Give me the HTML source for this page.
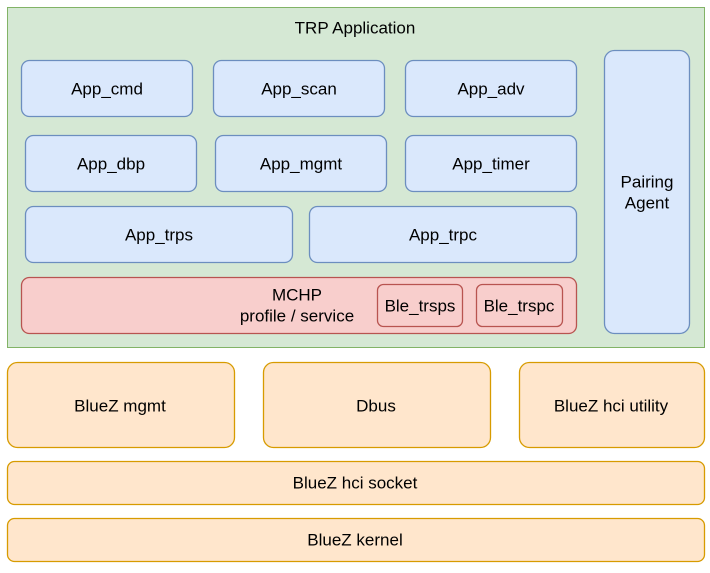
<!DOCTYPE html>
<html><head><meta charset="utf-8"><style>html,body{margin:0;padding:0;background:#fff}</style></head>
<body>
<svg width="710" height="568" xmlns="http://www.w3.org/2000/svg" font-family="Liberation Sans, Arial, sans-serif" font-size="17" text-anchor="middle" dominant-baseline="central" fill="#000">
<rect x="7.5" y="7.5" width="697" height="340" fill="#d5e8d4" stroke="#82b366"/>
<text x="355" y="28">TRP Application</text>
<g fill="#dae8fc" stroke="#6c8ebf" stroke-width="1.3">
<rect x="21.5" y="60.5" width="171" height="56" rx="8"/>
<rect x="213.5" y="60.5" width="171" height="56" rx="8"/>
<rect x="405.5" y="60.5" width="171" height="56" rx="8"/>
<rect x="25.5" y="135.5" width="171" height="56" rx="8"/>
<rect x="215.5" y="135.5" width="171" height="56" rx="8"/>
<rect x="405.5" y="135.5" width="171" height="56" rx="8"/>
<rect x="25.5" y="206.5" width="267" height="56" rx="8"/>
<rect x="309.5" y="206.5" width="267" height="56" rx="8"/>
<rect x="604.5" y="50.5" width="85" height="283" rx="10"/>
</g>
<text x="107" y="89">App_cmd</text>
<text x="299" y="89">App_scan</text>
<text x="491" y="89">App_adv</text>
<text x="111" y="164">App_dbp</text>
<text x="301" y="164">App_mgmt</text>
<text x="491" y="164">App_timer</text>
<text x="159" y="235">App_trps</text>
<text x="443" y="235">App_trpc</text>
<text x="647" y="182">Pairing</text>
<text x="647" y="203">Agent</text>
<g fill="#f8cecc" stroke="#b85450" stroke-width="1.3">
<rect x="21.5" y="277.5" width="555" height="56" rx="8"/>
<rect x="377.5" y="284.5" width="85" height="42" rx="6"/>
<rect x="476.5" y="284.5" width="86" height="42" rx="6"/>
</g>
<text x="297" y="295">MCHP</text>
<text x="297" y="316">profile / service</text>
<text x="420" y="306">Ble_trsps</text>
<text x="519" y="306">Ble_trspc</text>
<g fill="#ffe6cc" stroke="#d79b00" stroke-width="1.3">
<rect x="7.5" y="362.5" width="227" height="85" rx="10"/>
<rect x="263.5" y="362.5" width="227" height="85" rx="10"/>
<rect x="519.5" y="362.5" width="185" height="85" rx="10"/>
<rect x="7.5" y="461.5" width="697" height="43" rx="7"/>
<rect x="7.5" y="518.5" width="697" height="43" rx="7"/>
</g>
<text x="120" y="406">BlueZ mgmt</text>
<text x="376" y="406">Dbus</text>
<text x="611" y="406">BlueZ hci utility</text>
<text x="355" y="483">BlueZ hci socket</text>
<text x="355" y="540">BlueZ kernel</text>
</svg>
</body></html>
